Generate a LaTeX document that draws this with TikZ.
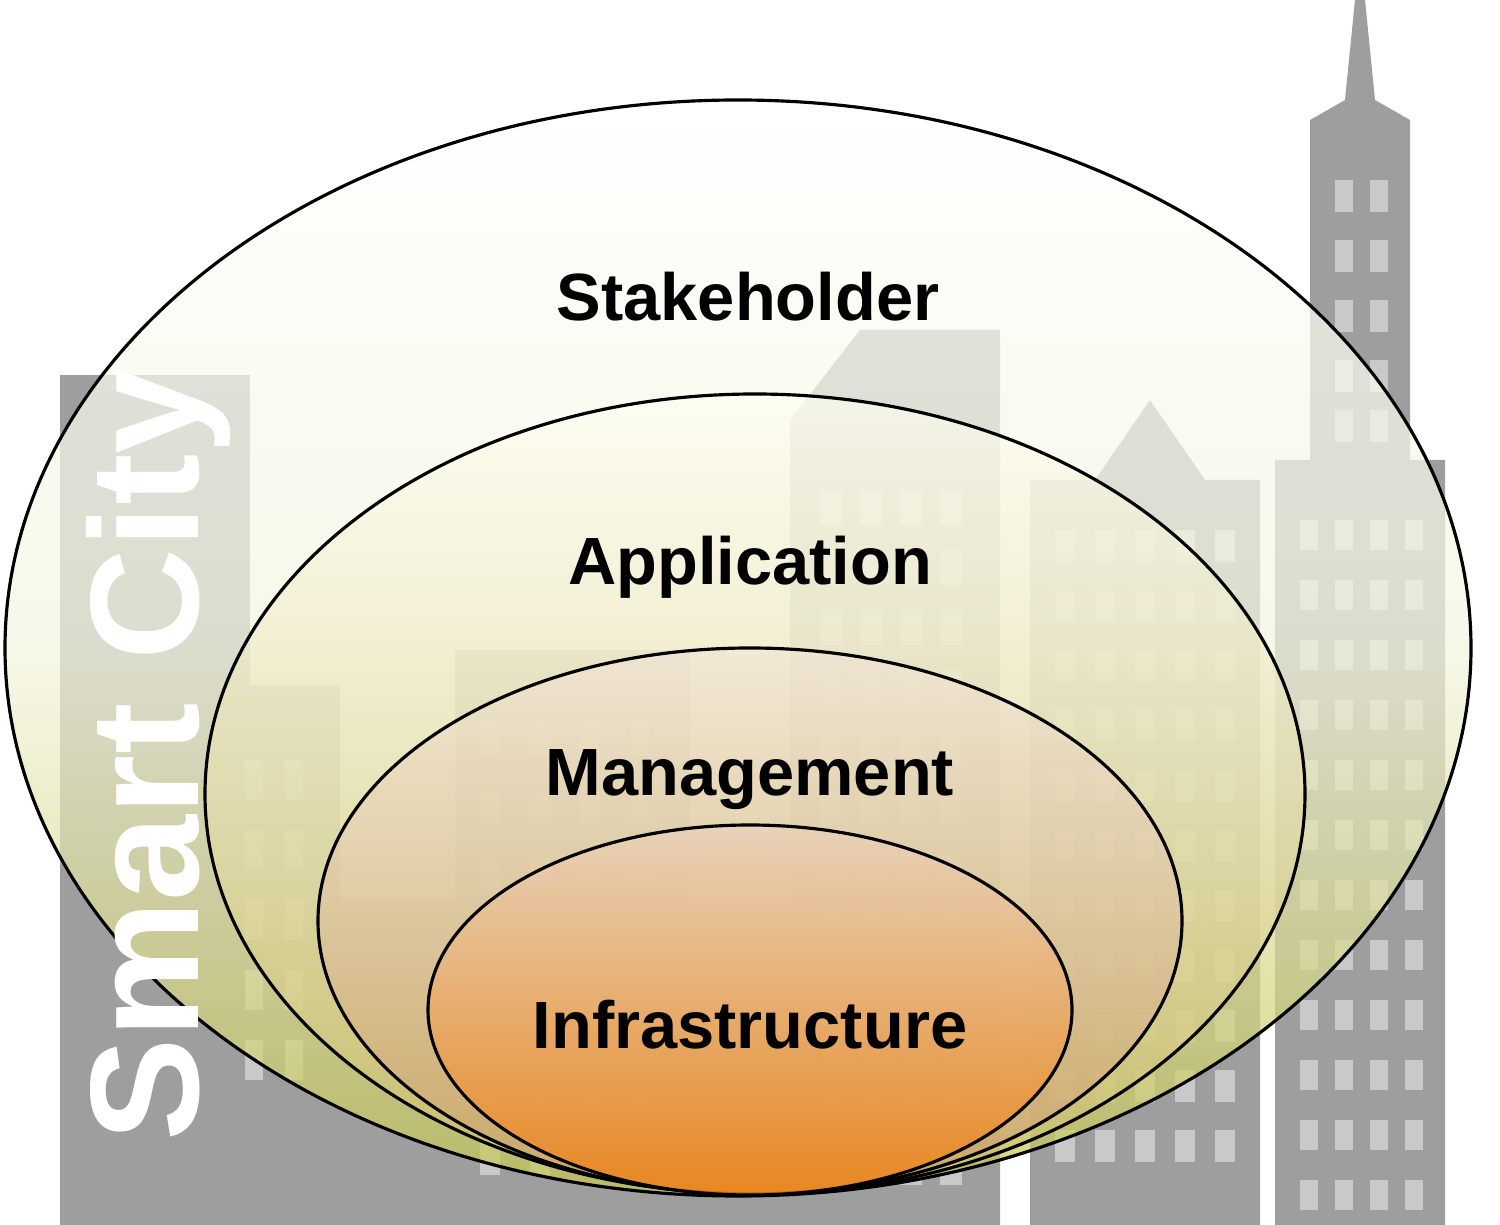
\documentclass[tikz,border=0pt]{standalone}
\usepackage{fontspec}
\setmainfont{Liberation Sans}
\begin{document}
\begin{tikzpicture}[x=0.01cm,y=-0.01cm,
  bld/.style={fill=bgrey,draw=none},
  win/.style={fill=white,opacity=0.45,draw=none},
  ring/.style={draw=black,line width=0.9pt},
  lbl/.style={font=\bfseries\fontsize{19}{22}\selectfont}]
\definecolor{bgrey}{HTML}{9E9E9E}
\useasboundingbox (0,0) rectangle (1500,1225);
\fill[white] (0,0) rectangle (1500,1225);
% buildings
\fill[bld] (60,375) rectangle (250,1225);
\fill[bld] (215,685) rectangle (340,1225);
\fill[bld] (455,650) rectangle (690,1225);
\fill[bld] (790,1225) -- (790,420) -- (860,330) -- (1000,330) -- (1000,1225) -- cycle;
\fill[bld] (1030,1225) -- (1030,480) -- (1095,480) -- (1150,400) -- (1205,480) -- (1260,480) -- (1260,1225) -- cycle;
\fill[bld] (1275,1225) -- (1275,460) -- (1310,460) -- (1310,120) -- (1345,100) -- (1355,0) -- (1365,0) -- (1375,100) -- (1410,120) -- (1410,460) -- (1445,460) -- (1445,1225) -- cycle;
\fill[bld] (340,900) rectangle (455,1225);
\fill[bld] (690,900) rectangle (790,1225);
% windows
\foreach \x in {820,860,900,940} \foreach \y in {490,550,610,670,730,790,850,910,970,1030,1090,1150} \fill[win] (\x,\y) rectangle ++(22,35);
\foreach \x in {1055,1095,1135,1175,1215} \foreach \y in {530,590,650,710,770,830,890,950,1010,1070,1130} \fill[win] (\x,\y) rectangle ++(20,32);
\foreach \x in {1300,1335,1370,1405} \foreach \y in {520,580,640,700,760,820,880,940,1000,1060,1120,1180} \fill[win] (\x,\y) rectangle ++(18,30);
\foreach \x in {1335,1370} \foreach \y in {180,240,300,360,410} \fill[win] (\x,\y) rectangle ++(18,32);
\foreach \x in {245,285} \foreach \y in {760,830,900,970,1040} \fill[win] (\x,\y) rectangle ++(18,40);
\foreach \x in {480,530,580,630} \foreach \y in {720,790,860,930,1000,1070,1140} \fill[win] (\x,\y) rectangle ++(20,35);
% ellipses
\shade[top color=white,bottom color=olive!45!white,middle color=white!92!olive,opacity=0.72] (738,648) ellipse [x radius=733,y radius=548];
\draw[ring] (738,648) ellipse [x radius=733,y radius=548];
\shade[top color=white!95!yellow,bottom color=olive!55!brown!50!white,opacity=0.65] (755,794) ellipse [x radius=550,y radius=400];
\draw[ring] (755,794) ellipse [x radius=550,y radius=400];
\shade[top color=brown!20!white,bottom color=brown!80!white,opacity=0.6] (750,921) ellipse [x radius=432,y radius=273];
\draw[ring] (750,921) ellipse [x radius=432,y radius=273];
\shade[top color=brown!35!white,bottom color=orange!75!brown,opacity=0.8] (750,1010) ellipse [x radius=322,y radius=185];
\draw[ring] (750,1010) ellipse [x radius=322,y radius=185];
% labels
\node[lbl] (st) at (748,297) {Stakeholder};
\node[lbl] (ap) at (750,567) {Application};
\node[lbl] (ma) at (750,780) {Management};
\node[lbl] (in) at (750,1025) {Infrastructure};
\node[rotate=90,text=white,font=\bfseries\fontsize{44}{50}\selectfont] (sc) at (158,755) {Smart City};
\end{tikzpicture}
\end{document}
